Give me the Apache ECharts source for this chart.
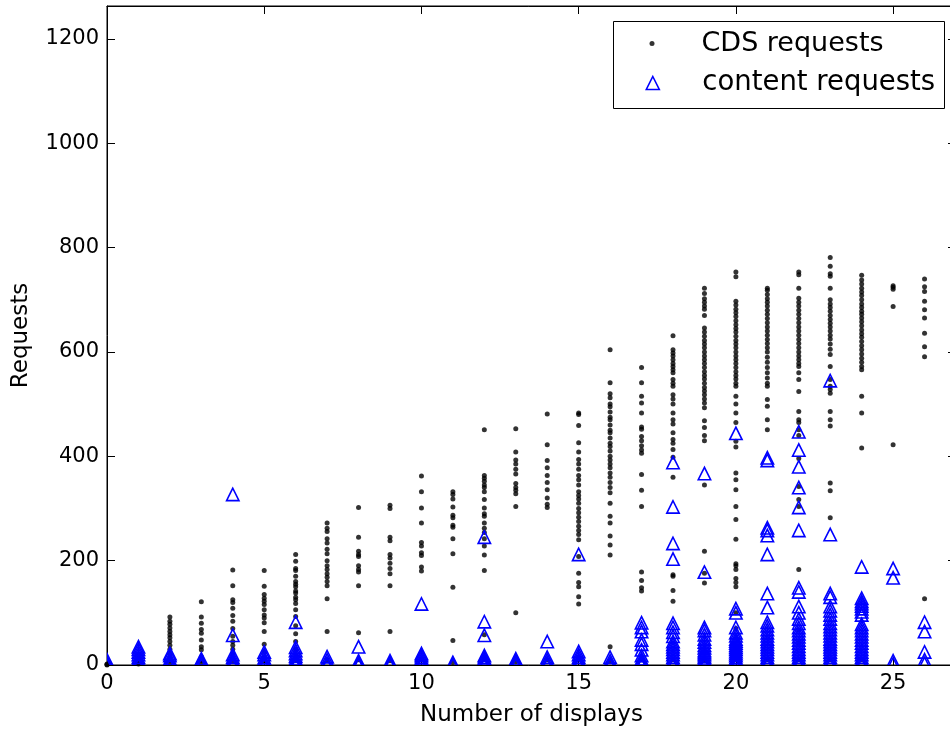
<!DOCTYPE html>
<html>
<head>
<meta charset="utf-8">
<script src="https://cdn.jsdelivr.net/npm/echarts@6/dist/echarts.min.js"></script>
<style>
  html, body { margin: 0; padding: 0; background: #fff; }
  #chart { width: 950px; height: 731px; }
</style>
</head>
<body>
<div id="chart"></div>
<script>
// Number of displays on the x axis (one column of points per count)
const displayCounts = [0, 1, 2, 3, 4, 5, 6, 7, 8, 9, 10, 11, 12, 13, 14, 15, 16, 17, 18, 19, 20, 21, 22, 23, 24, 25, 26];
const xTickValues = [0, 5, 10, 15, 20, 25];
const yTickValues = [0, 200, 400, 600, 800, 1000, 1200];

// CDS requests observed for each number of displays (index = displays)
const cdsRequests = [
  [0, 1, 2],
  [2, 5, 9, 14, 20],
  [92, 84, 78, 71, 64, 58, 52, 45, 38, 30, 22, 15, 8, 3],
  [121, 92, 80, 68, 61, 48, 35, 29, 16, 8, 3],
  [182, 152, 125, 120, 109, 95, 84, 70, 55, 45, 38, 30, 22, 15, 8],
  [181, 151, 135, 128, 122, 116, 106, 96, 90, 81, 64, 40, 25, 15, 8],
  [212, 199, 185, 181, 170, 160, 155, 150, 142, 138, 130, 125, 118, 106, 93, 75, 60, 45, 30, 20, 10],
  [272, 262, 256, 242, 234, 222, 213, 200, 190, 183, 175, 168, 160, 152, 127, 64, 10],
  [302, 245, 218, 212, 208, 190, 183, 178, 152, 62, 10],
  [306, 300, 245, 238, 212, 205, 195, 185, 175, 152, 64, 8],
  [362, 332, 301, 272, 235, 228, 215, 210, 188, 180, 12],
  [332, 327, 318, 303, 287, 282, 268, 264, 242, 213, 149, 47, 5],
  [451, 363, 358, 352, 345, 340, 332, 317, 301, 290, 285, 272, 262, 254, 242, 228, 211, 181, 58, 12],
  [453, 408, 393, 385, 375, 366, 348, 340, 335, 328, 304, 100, 6],
  [481, 422, 392, 378, 363, 350, 336, 320, 308, 302, 10],
  [483, 480, 459, 426, 408, 394, 385, 375, 363, 355, 345, 332, 325, 318, 310, 300, 292, 283, 275, 266, 258, 250, 240, 208, 176, 158, 150, 131, 117, 15],
  [604, 541, 520, 512, 500, 495, 485, 475, 470, 460, 450, 445, 435, 425, 419, 410, 400, 393, 385, 378, 368, 360, 350, 340, 330, 310, 285, 272, 247, 230, 211, 35, 8],
  [570, 541, 515, 502, 483, 456, 452, 438, 430, 420, 412, 406, 365, 335, 304, 178, 162, 148, 142, 10],
  [631, 604, 598, 592, 585, 578, 572, 566, 560, 547, 540, 534, 518, 510, 500, 483, 470, 462, 445, 432, 425, 413, 398, 360, 173, 170, 143, 122, 10],
  [722, 712, 702, 695, 688, 682, 670, 646, 638, 630, 622, 615, 608, 600, 592, 585, 578, 570, 562, 555, 548, 540, 532, 525, 518, 510, 502, 493, 468, 455, 440, 430, 345, 218, 176, 157, 10],
  [753, 744, 697, 690, 682, 675, 668, 660, 652, 645, 638, 630, 622, 615, 608, 600, 592, 585, 578, 570, 562, 555, 548, 540, 534, 515, 500, 483, 465, 429, 418, 368, 355, 336, 304, 279, 241, 194, 190, 183, 166, 158, 150, 100, 70, 10],
  [722, 718, 710, 702, 695, 688, 680, 672, 664, 656, 648, 640, 632, 624, 616, 608, 600, 590, 580, 570, 560, 550, 540, 534, 509, 496, 470, 451, 10],
  [753, 748, 722, 703, 695, 688, 680, 672, 664, 656, 648, 640, 632, 624, 616, 608, 600, 592, 585, 578, 572, 560, 547, 524, 486, 470, 465, 451, 440, 396, 342, 317, 304, 183, 67, 42, 10],
  [781, 764, 750, 745, 722, 700, 692, 685, 678, 670, 662, 655, 648, 640, 632, 625, 615, 605, 595, 572, 547, 534, 528, 521, 486, 470, 458, 349, 334, 282, 10],
  [747, 738, 730, 722, 715, 708, 700, 692, 685, 678, 672, 665, 658, 650, 642, 635, 628, 620, 612, 604, 596, 588, 580, 572, 566, 515, 483, 416, 10],
  [727, 724, 720, 687, 422],
  [740, 725, 716, 697, 681, 665, 636, 610, 591, 127]
];

// Content requests observed for each number of displays (index = displays)
const contentRequests = [
  [10, 6, 3, 0],
  [35, 30, 25, 20, 15, 10, 5, 2, 0],
  [22, 18, 12, 8, 4, 1, 0],
  [12, 8, 4, 0],
  [327, 57, 20, 15, 10, 6, 3, 0],
  [25, 20, 14, 9, 5, 2, 0],
  [82, 34, 28, 22, 17, 12, 8, 4, 0],
  [16, 10, 4, 0],
  [35, 8, 4, 0],
  [8, 4, 0],
  [117, 22, 18, 14, 10, 5, 0],
  [5, 2, 0],
  [245, 83, 57, 18, 14, 10, 6, 2, 0],
  [12, 8, 4, 0],
  [45, 15, 10, 5, 0],
  [212, 26, 20, 15, 10, 6, 2, 0],
  [15, 8, 3, 0],
  [81, 72, 64, 48, 40, 29, 18, 12, 8, 4, 0],
  [388, 303, 233, 203, 80, 72, 63, 55, 45, 40, 35, 30, 25, 20, 15, 10, 5, 0],
  [367, 178, 72, 66, 58, 50, 44, 38, 33, 28, 24, 20, 16, 12, 8, 4, 0],
  [444, 108, 100, 72, 62, 56, 50, 46, 42, 38, 34, 30, 26, 22, 18, 14, 10, 6, 3, 0],
  [397, 392, 263, 258, 248, 212, 137, 110, 82, 75, 68, 62, 56, 50, 45, 40, 35, 30, 25, 20, 15, 10, 5, 0],
  [447, 412, 380, 340, 302, 258, 148, 140, 112, 100, 88, 80, 72, 66, 60, 54, 48, 42, 36, 30, 25, 20, 15, 10, 5, 0],
  [545, 250, 137, 130, 112, 104, 96, 88, 80, 74, 68, 62, 56, 50, 45, 40, 35, 30, 25, 20, 15, 10, 5, 0],
  [188, 128, 122, 118, 113, 108, 102, 96, 78, 72, 66, 60, 54, 48, 42, 36, 30, 25, 20, 15, 10, 5, 0],
  [185, 167, 8, 2],
  [82, 64, 25, 10, 3]
];

const FONT = 'DejaVu Sans';
const X_MAX = 27;
const Y_MAX = 1263;

// Flatten the per-column lists into [displays, requests] pairs
function toPairs(columns) {
  const out = [];
  displayCounts.forEach((d, i) => {
    (columns[i] || []).forEach(v => out.push([d, v]));
  });
  return out;
}

const tickFormatter = (ticks) => (v) => (ticks.indexOf(v) >= 0 ? String(v) : '');

const chart = echarts.init(document.getElementById('chart'), null, { renderer: 'canvas' });

function axisLine() { return { show: true, onZero: false, lineStyle: { color: '#000', width: 1 } }; }
function axisTick() { return { show: true, inside: true, length: 8, lineStyle: { color: '#000', width: 1 } }; }

chart.setOption({
  animation: false,
  backgroundColor: '#fff',
  grid: {
    left: 107, top: 6, width: 849, height: 659,
    containLabel: false,
    outerBoundsMode: 'none',
    show: true, borderColor: '#000', borderWidth: 1, backgroundColor: 'transparent'
  },
  xAxis: [
    {
      type: 'value', min: 0, max: X_MAX, interval: 5,
      position: 'bottom',
      name: 'Number of displays', nameLocation: 'middle', nameGap: 39,
      nameTextStyle: { fontFamily: FONT, fontSize: 23, color: '#000' },
      axisLine: axisLine(), axisTick: axisTick(),
      axisLabel: { fontFamily: FONT, fontSize: 21, color: '#000', margin: 8, formatter: tickFormatter(xTickValues) },
      splitLine: { show: false }
    },
    {
      type: 'value', min: 0, max: X_MAX, interval: 5,
      position: 'top',
      axisLine: axisLine(), axisTick: axisTick(),
      axisLabel: { show: false }, splitLine: { show: false }
    }
  ],
  yAxis: [
    {
      type: 'value', min: 0, max: Y_MAX, interval: 200,
      position: 'left',
      name: 'Requests', nameLocation: 'middle', nameGap: 74, nameRotate: 90,
      nameTextStyle: { fontFamily: FONT, fontSize: 23, color: '#000' },
      axisLine: axisLine(), axisTick: axisTick(),
      axisLabel: { fontFamily: FONT, fontSize: 21, color: '#000', margin: 8, formatter: tickFormatter(yTickValues) },
      splitLine: { show: false }
    },
    {
      type: 'value', min: 0, max: Y_MAX, interval: 200,
      position: 'right',
      axisLine: axisLine(), axisTick: axisTick(),
      axisLabel: { show: false }, splitLine: { show: false }
    }
  ],
  graphic: [
    {
      type: 'rect', left: 613, top: 21, z: 5,
      shape: { width: 331, height: 87 },
      style: { fill: '#fff', stroke: '#000', lineWidth: 1 }
    }
  ],
  legend: [
    {
      data: [{ name: 'CDS requests', icon: 'circle' }],
      orient: 'vertical', left: 649.5, top: 30, padding: 0, z: 6,
      itemWidth: 5, itemHeight: 5, selectedMode: false,
      textStyle: { fontFamily: FONT, fontSize: 27, color: '#000', padding: [0, 0, 4, 42] }
    },
    {
      data: [{ name: 'content requests', icon: 'triangle',
               itemStyle: { color: 'transparent', borderColor: '#0000ff', borderWidth: 1.6 } }],
      orient: 'vertical', left: 645.5, top: 69, padding: 0, z: 6,
      itemWidth: 13, itemHeight: 13, selectedMode: false,
      textStyle: { fontFamily: FONT, fontSize: 27.5, color: '#000', padding: [0, 0, 30, 38] }
    }
  ],
  series: [
    {
      name: 'CDS requests',
      type: 'scatter',
      data: toPairs(cdsRequests),
      symbol: 'circle',
      symbolSize: 5,
      itemStyle: { color: '#000' },
      z: 2
    },
    {
      name: 'content requests',
      type: 'custom',
      clip: true,
      data: toPairs(contentRequests),
      encode: { x: 0, y: 1 },
      z: 3,
      renderItem: function (params, api) {
        const p = api.coord([api.value(0), api.value(1)]);
        const h = 6.2;
        return {
          type: 'polygon',
          shape: { points: [[p[0], p[1] - h], [p[0] - h, p[1] + h], [p[0] + h, p[1] + h]] },
          style: { fill: 'none', stroke: '#0000ff', lineWidth: 1.6 }
        };
      }
    }
  ]
});
</script>
</body>
</html>
